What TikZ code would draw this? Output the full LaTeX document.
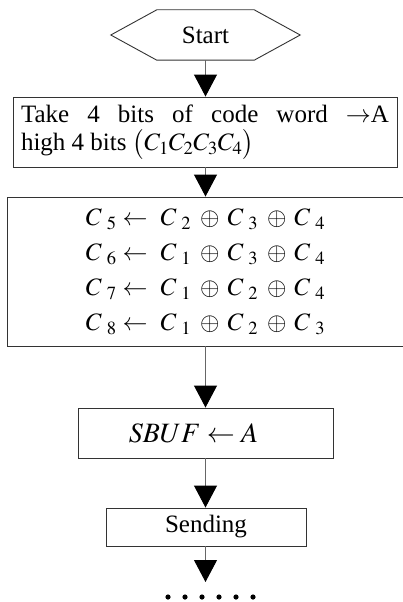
\documentclass[tikz,border=0pt]{standalone}
\usepackage{mathptmx}
\usepackage{fontspec}
\setmainfont{Liberation Serif}
\usetikzlibrary{arrows.meta}
\newcommand{\Csub}[1]{C_{\hspace{6pt}#1}}
\newcommand{\xorrow}[4]{$\Csub{#1}\hspace{6pt}{\leftarrow}\hspace{13pt}\Csub{#2}\hspace{9pt}{\oplus}\hspace{8pt}\Csub{#3}\hspace{9pt}{\oplus}\hspace{8pt}\Csub{#4}$}
\tikzset{
  box/.style={draw=black!80, line width=0.9pt, rectangle, inner sep=0pt},
  hexline/.style={draw=black!80, line width=0.9pt},
  flow/.style={draw=black!60, line width=1pt, -{Triangle[length=22pt,width=23pt,color=black]}},
  dotmark/.style={fill=black}
}
\begin{document}
\begin{tikzpicture}[x=1pt,y=-1pt]
\useasboundingbox[fill=white] (0,0) rectangle (402,602);
\node[rectangle, inner sep=0pt, minimum width=189pt, minimum height=50pt,
      font=\fontsize{25}{28}\selectfont] (start) at (205.5,35) {Start};
\draw[hexline] (start.west) -- ([xshift=46pt]start.north west)
  -- ([xshift=-46pt]start.north east) -- (start.east)
  -- ([xshift=-46pt]start.south east) -- ([xshift=46pt]start.south west) -- cycle;
\node[box, minimum width=384pt, minimum height=70pt, text width=368pt,
      inner xsep=8pt, align=justify,
      font=\fontsize{25}{28}\selectfont] (take) at (205,132)
  {Take 4 bits of code word $\rightarrow$A\linebreak
   high 4 bits $\bigl(C_1C_2C_3C_4\bigr)$};
\node[box, minimum width=397pt, minimum height=149pt, align=center,
      font=\fontsize{25}{35}\selectfont] (xor) at (205.5,271.5)
  {\xorrow{5}{2}{3}{4}\\
   \xorrow{6}{1}{3}{4}\\
   \xorrow{7}{1}{2}{4}\\
   \xorrow{8}{1}{2}{3}};
\node[box, minimum width=255pt, minimum height=50pt,
      font=\fontsize{28}{30}\selectfont] (sbuf) at (205.5,433)
  {$SBUF\leftarrow A$\hspace*{24pt}};
\node[box, minimum width=200pt, minimum height=38pt,
      font=\fontsize{25}{28}\selectfont] (send) at (206,527) {Sending};
\coordinate (end) at (206,582);
\draw[flow] (start.south) -- (take.north -| start.south);
\draw[flow] (take.south -| start.south) -- (xor.north -| start.south);
\draw[flow] (xor.south -| start.south) -- (sbuf.north -| start.south);
\draw[flow] (sbuf.south -| start.south) -- (send.north -| start.south);
\draw[flow] (send.south -| start.south) -- (end -| start.south);
\foreach \x in {168,185,202,219,236,253} \fill[dotmark] (\x,597) circle (2.6);
\end{tikzpicture}
\end{document}
